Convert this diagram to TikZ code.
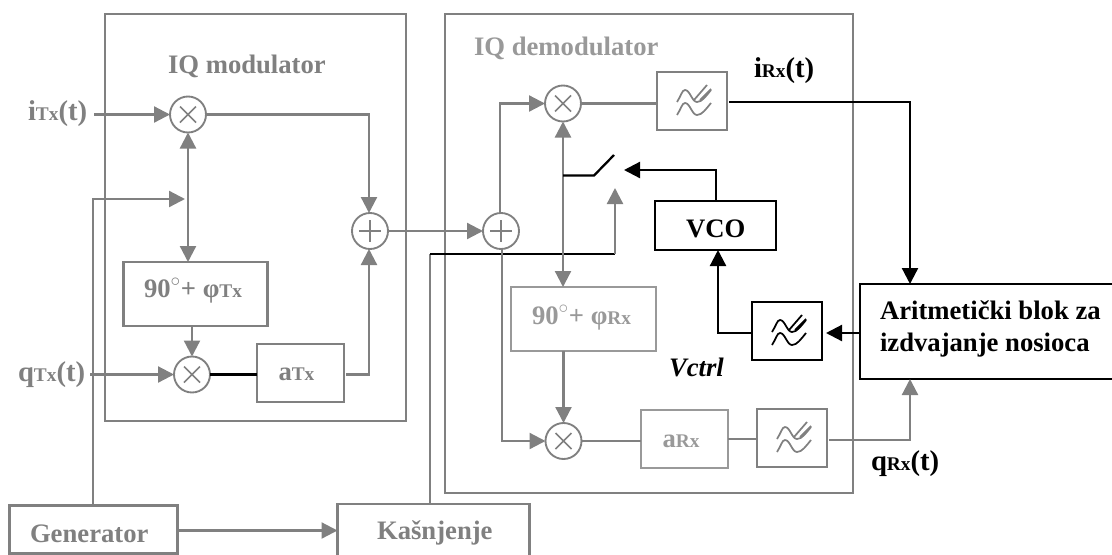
\documentclass[tikz,border=0pt]{standalone}
\usepackage{fontspec}
\setmainfont{Liberation Serif}
\usetikzlibrary{arrows.meta}
\definecolor{gr}{HTML}{808080}
\definecolor{grl}{HTML}{999999}
\newcommand{\wavesym}[1]{\draw[#1,line width=1.3pt,shift={(path picture bounding box.center)}]
  (-15,1) .. controls (-11,-5) and (-10,-11) .. (-7,-11) .. controls (-2,-11) and (0,1) .. (5,1) .. controls (10,1) and (14,-5) .. (19,-11)
  (-15,14) .. controls (-11,8) and (-10,2) .. (-7,2) .. controls (-2,2) and (0,14) .. (5,14) .. controls (10,14) and (14,8) .. (19,2)
  (2,-1) -- (15,-16) (8,-1) -- (19,-12);}
\tikzset{
  x=0.75pt,y=-0.75pt,
  g/.style={draw=gr,line width=1.7pt},
  k/.style={draw=black,line width=1.7pt},
  tip/.style={-{Triangle[length=12pt,width=12pt]}},
  dtip/.style={{Triangle[length=12pt,width=12pt]}-{Triangle[length=12pt,width=12pt]}},
  box/.style={draw=gr,line width=1.7pt,inner sep=0,outer sep=0,minimum width=#1},
  kbox/.style={draw=black,line width=1.7pt,inner sep=0,outer sep=0,minimum width=#1},
  circ/.style={circle,draw=gr,line width=1.4pt,inner sep=0,outer sep=0,minimum size=27pt},
  mult/.style={circ,path picture={\draw[gr,line width=1.1pt,shift={(path picture bounding box.center)}] (-8,-8)--(8,8) (-8,8)--(8,-8);}},
  add/.style={circ,path picture={\draw[gr,line width=1.1pt,shift={(path picture bounding box.center)}] (-11,0)--(11,0) (0,-11)--(0,11);}},
  lbl/.style={anchor=base west,inner sep=0,outer sep=0,font=\bfseries\fontsize{20}{24}\selectfont},
  sig/.style={anchor=base west,inner sep=0,outer sep=0,font=\bfseries\fontsize{21.5}{25}\selectfont},
  hh/.style={minimum height=#1},
}
\newcommand{\sbs}[1]{{\fontsize{14.5}{16}\selectfont #1}}
\begin{document}
\begin{tikzpicture}
\useasboundingbox (0,0) rectangle (1112,554);
% frames
\node[box=225.75pt,hh=305.25pt] (modframe) at (255.5,217.5) {};
\node[box=306pt,hh=359.25pt] (demframe) at (649,253.5) {};
\node[lbl,text=gr] (modt) at (168,73) {IQ modulator};
\node[lbl,text=grl] (demt) at (474,55) {IQ demodulator};
% modulator
\node[mult] (m1) at (188,114.5) {};
\node[mult] (m2) at (192,374.5) {};
\node[add] (a1) at (370,231) {};
\node[box=108pt,hh=48pt] (p1) at (195.5,294) {};
\node[lbl,text=gr] (p1t) at (144,297) {90$^{\circ}$+ φ\sbs{Tx}};
\node[box=65.25pt,hh=43.5pt] (at) at (300.5,373) {};
\node[lbl,text=gr] (att) at (278.5,380) {a\sbs{Tx}};
\node[sig,text=gr] (itx) at (28,120) {i\sbs{Tx}(t)};
\node[sig,text=gr] (qtx) at (18,381) {q\sbs{Tx}(t)};
% bottom blocks
\node[box=126pt,hh=36pt] (gen) at (93.5,529.5) {};
\node[lbl,text=gr] (gent) at (30,542) {Generator};
\node[box=144pt,hh=40pt] (del) at (433.5,530.5) {};
\node[lbl,text=gr] (delt) at (377,539) {Kašnjenje};
% demodulator
\node[add] (a2) at (501,231) {};
\node[mult] (m3) at (563,103.5) {};
\node[mult] (m4) at (563.5,441) {};
\node[box=52.5pt,hh=43.5pt,path picture={\wavesym{gr}}] (f1) at (692,101) {};
\node[box=108.75pt,hh=48pt,draw=grl] (p2) at (583.5,319) {};
\node[lbl,text=grl] (p2t) at (532,324) {90$^{\circ}$+ φ\sbs{Rx}};
\node[box=65.25pt,hh=43.5pt,draw=grl] (ar) at (684.5,439) {};
\node[lbl,text=grl] (art) at (662.5,447) {a\sbs{Rx}};
\node[box=52.5pt,hh=43.5pt,path picture={\wavesym{gr}}] (f2) at (792,438) {};
\node[kbox=90.75pt,hh=36.75pt] (vco) at (715.5,225.5) {};
\node[lbl] (vcot) at (686,237) {VCO};
\node[kbox=52.5pt,hh=43.5pt,path picture={\wavesym{black}}] (f3) at (787,331) {};
\node[kbox=192pt,hh=71.25pt] (arit) at (988,331.5) {};
\node[lbl] (arit1) at (880,319) {Aritmetički blok za};
\node[lbl] (arit2) at (880,351) {izdvajanje nosioca};
\node[lbl,font=\bfseries\itshape\fontsize{20}{24}\selectfont] (vc) at (669,376) {Vctrl};
\node[sig] (irx) at (754,77) {i\sbs{Rx}(t)};
\node[sig] (qrx) at (871,470) {q\sbs{Rx}(t)};
% junction and free-end coordinates
\coordinate (e1) at (94,114.5);
\coordinate (e2) at (90,374.5);
\coordinate (g1) at (93,199);
\coordinate (g2) at (185,199);
\coordinate (g3) at (93,505);
\coordinate (d0) at (430,504);
\coordinate (d1) at (430,254);
\coordinate (d2) at (615,254);
\coordinate (d3) at (615,188);
\coordinate (s0) at (563,175.5);
\coordinate (s1) at (594,175.5);
\coordinate (s2) at (614,155);
\coordinate (v1) at (716,170);
\coordinate (v2) at (624,170);
\coordinate (r1) at (910,102);
\coordinate (r2) at (910,440);
\coordinate (c1) at (718,333);
\coordinate (u1) at (500,103.5);
\coordinate (u2) at (502,441);
\coordinate (t1) at (369,114.5);
\coordinate (t2) at (369,374.5);
% gray connectors
\draw[g,tip] (e1) -- (m1.west);
\draw[g,tip] (m1.east) -- (t1) -- (t1 |- a1.north);
\draw[g,dtip] (m1.south) -- (m1.south |- p1.north);
\draw[g,tip] (g3) -- (g1) -- (g2);
\draw[g,tip] (p1.south -| m2.north) -- (m2.north);
\draw[g,tip] (e2) -- (m2.west);
\draw[k] (m2.east) -- (at.west |- m2.east);
\draw[g,tip] (at.east |- t2) ++(2,0) -- (t2) -- (t2 |- a1.south);
\draw[g,tip] (a1.east) -- (a2.west);
\draw[g,tip] (gen.east |- del.west) -- (del.west);
\draw[g] (d0) -- (d1);
\draw[k] (d1) -- (d2);
\draw[g,tip] (d2) -- (d3);
\draw[g,tip] (u1 |- a2.north) -- (u1) -- (m3.west);
\draw[g] (m3.east) -- (f1.west |- m3.east);
\draw[g,dtip] (m3.south) -- (m3.south |- p2.north);
\draw[g,tip] (p2.south -| m4.north) -- (m4.north);
\draw[g,tip] (u2 |- a2.south) -- (u2) -- (m4.west);
\draw[g] (m4.east) -- (ar.west |- m4.east);
\draw[g] (ar.east) -- (f2.west |- ar.east);
\draw[g,tip] ([xshift=1.5pt]f2.east |- r2) -- (r2) -- (r2 |- arit.south);
% black connectors
\draw[k,tip] ([xshift=1.5pt]f1.east |- r1) -- (r1) -- (r1 |- arit.north);
\draw[k] (s0) -- (s1) -- (s2);
\draw[k,tip] (vco.north -| v1) -- (v1) -- (v2);
\draw[k,tip] (arit.west |- c1) -- ([xshift=3pt]f3.east |- c1);
\draw[k,tip] (f3.west |- c1) -- (c1) -- (c1 |- vco.south);
\end{tikzpicture}
\end{document}
